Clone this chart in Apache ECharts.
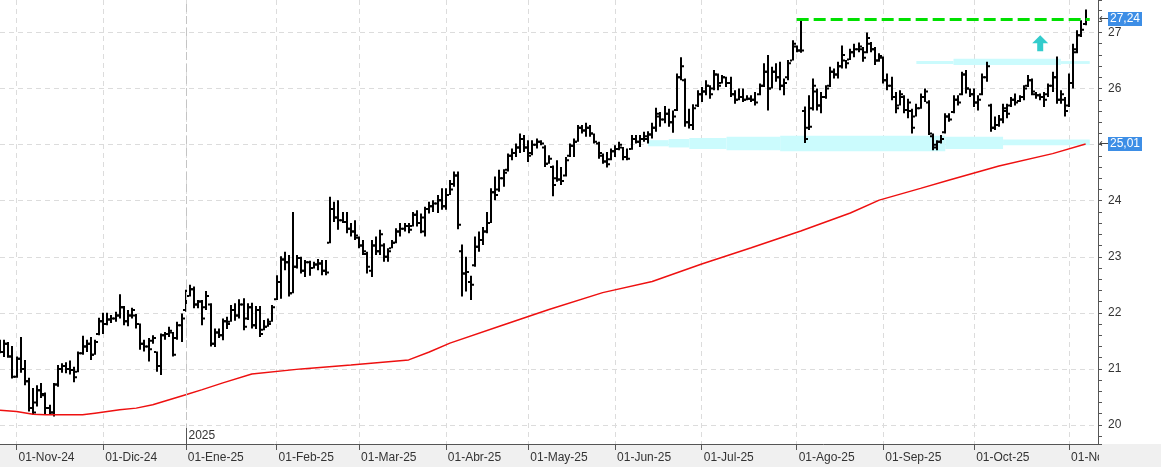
<!DOCTYPE html>
<html>
<head>
<meta charset="utf-8">
<title>Cotización</title>
<script src="https://cdn.jsdelivr.net/npm/echarts@6.0.0/dist/echarts.min.js"></script>
<style>
  html, body { margin: 0; padding: 0; background: #fff; }
  #chart { width: 1161px; height: 467px; }
</style>
</head>
<body>
<div id="chart"></div>
<script>
  // sesiones del 28-oct-24 al 07-nov-25 (mas tres huecos vacios a la derecha)
  const firstDay = '2024-10-28'
  const lastDay = '2025-11-12'
  const holidays = ['2024-12-25', '2024-12-26', '2025-01-01', '2025-04-18', '2025-04-21', '2025-05-01']
  const monthNames = ['Ene', 'Feb', 'Mar', 'Abr', 'May', 'Jun', 'Jul', 'Ago', 'Sep', 'Oct', 'Nov', 'Dic']

  const opens = [
    21.40, 21.30, 21.45, 21.22, 20.86, 21.18, 21.00, 20.78, 20.30, 20.40,
    20.62, 20.53, 20.30, 20.22, 20.72, 21.00, 21.05, 21.00, 20.98, 20.95,
    21.28, 21.40, 21.45, 21.25, 21.62, 21.85, 21.80, 21.88, 21.90, 21.95,
    22.10, 21.85, 21.95, 21.95, 21.80, 21.45, 21.40, 21.50, 21.30, 21.05,
    21.60, 21.62, 21.65, 21.55, 21.78, 22.05, 22.30, 22.42, 22.15, 22.20,
    22.10, 22.15, 21.45, 21.65, 21.60, 21.85, 21.84, 22.05, 21.95, 22.15,
    21.90, 22.10, 21.78, 22.05, 21.70, 21.75, 21.84, 22.24, 22.55, 22.95,
    22.90, 22.35, 22.82, 22.98, 22.75, 22.90, 22.80, 22.86, 22.88, 22.75,
    23.25, 23.85, 23.70, 23.65, 23.62, 23.50, 23.45, 23.34, 23.20, 23.05,
    22.75, 23.20, 23.10, 23.20, 23.00, 23.15, 23.25, 23.45, 23.50, 23.55,
    23.55, 23.75, 23.60, 23.45, 23.85, 23.90, 23.95, 24.01, 23.90, 24.10,
    24.30, 24.45, 23.10, 22.70, 22.55, 22.85, 23.18, 23.30, 23.45, 23.60,
    24.15, 24.20, 24.40, 24.55, 24.80, 24.85, 24.95, 25.10, 24.95, 24.85,
    25.00, 25.05, 24.95, 24.66, 24.60, 24.40, 24.38, 24.45, 24.80, 24.98,
    25.05, 25.30, 25.25, 25.30, 25.20, 25.02, 24.80, 24.70, 24.74, 24.88,
    24.92, 24.95, 24.78, 24.92, 25.10, 25.05, 25.10, 25.10, 25.18, 25.30,
    25.50, 25.45, 25.55, 25.40, 25.62, 26.20, 26.15, 25.40, 25.35, 25.70,
    25.90, 25.95, 26.05, 26.00, 26.25, 26.10, 26.20, 26.10, 25.90, 25.80,
    25.85, 25.80, 25.82, 25.80, 25.90, 26.05, 26.30, 26.00, 26.30, 26.20,
    26.05, 26.20, 26.50, 26.75, 26.68, 25.60, 25.30, 25.65, 25.95, 25.70,
    25.85, 26.05, 26.30, 26.25, 26.40, 26.50, 26.52, 26.65, 26.70, 26.70,
    26.65, 26.80, 26.70, 26.50, 26.55, 26.15, 26.05, 25.85, 25.70, 25.85,
    25.62, 25.60, 25.50, 25.65, 25.85, 25.75, 25.15, 24.95, 25.05, 25.22,
    25.50, 25.58, 25.80, 25.90, 26.25, 26.00, 25.90, 25.75, 25.90, 26.20,
    25.70, 25.30, 25.35, 25.45, 25.60, 25.70, 25.80, 25.78, 25.85, 26.05,
    26.15, 25.90, 25.88, 25.85, 25.90, 26.05, 26.20, 25.80, 25.80, 25.70,
    26.10, 26.70, 26.95, 27.15
  ]
  const highs = [
    21.52, 21.52, 21.48, 21.41, 21.22, 21.57, 21.16, 20.84, 20.66, 20.71,
    20.75, 20.58, 20.36, 20.75, 21.07, 21.10, 21.12, 21.15, 21.04, 21.31,
    21.59, 21.52, 21.57, 21.52, 21.91, 22.00, 22.00, 21.96, 22.02, 22.33,
    22.12, 22.05, 22.09, 21.98, 21.81, 21.52, 21.55, 21.60, 21.31, 21.63,
    21.66, 21.75, 21.66, 21.84, 21.99, 22.41, 22.50, 22.47, 22.23, 22.23,
    22.39, 22.17, 21.72, 21.72, 21.90, 21.93, 22.14, 22.17, 22.24, 22.26,
    22.17, 22.18, 22.12, 22.12, 21.87, 21.90, 22.14, 22.67, 23.01, 23.09,
    23.03, 23.80, 23.03, 23.00, 22.94, 22.93, 22.91, 22.96, 22.94, 22.94,
    24.07, 23.98, 24.01, 23.80, 23.80, 23.60, 23.65, 23.36, 23.30, 23.09,
    23.30, 23.36, 23.48, 23.24, 23.15, 23.30, 23.51, 23.60, 23.60, 23.60,
    23.80, 23.83, 23.77, 23.89, 23.98, 24.01, 24.10, 24.22, 24.22, 24.37,
    24.52, 24.52, 23.22, 23.00, 22.66, 23.36, 23.45, 23.53, 23.80, 24.22,
    24.43, 24.55, 24.56, 24.84, 24.93, 25.02, 25.20, 25.17, 25.08, 25.08,
    25.11, 25.08, 24.99, 24.81, 24.63, 24.72, 24.60, 24.78, 25.02, 25.11,
    25.35, 25.35, 25.39, 25.35, 25.20, 25.05, 24.84, 24.87, 24.93, 24.99,
    25.05, 24.96, 24.93, 25.17, 25.17, 25.17, 25.23, 25.24, 25.39, 25.66,
    25.58, 25.69, 25.64, 25.61, 26.27, 26.56, 26.18, 25.64, 25.72, 25.97,
    26.03, 26.15, 26.06, 26.33, 26.27, 26.24, 26.21, 26.21, 25.97, 26.00,
    26.00, 25.88, 25.88, 25.94, 26.09, 26.45, 26.60, 26.39, 26.45, 26.48,
    26.18, 26.51, 26.86, 26.77, 27.24, 25.68, 25.88, 26.18, 26.00, 25.94,
    26.06, 26.39, 26.36, 26.48, 26.77, 26.51, 26.71, 26.80, 26.82, 26.74,
    27.00, 26.83, 26.74, 26.63, 26.57, 26.27, 26.21, 25.94, 25.97, 25.88,
    25.82, 25.64, 25.73, 25.91, 26.00, 25.79, 25.20, 25.08, 25.17, 25.56,
    25.56, 25.88, 25.88, 26.30, 26.33, 26.00, 26.00, 25.88, 26.27, 26.48,
    25.73, 25.50, 25.53, 25.73, 25.73, 25.85, 25.91, 25.88, 26.06, 26.24,
    26.18, 25.94, 25.91, 25.94, 26.09, 26.30, 26.57, 25.97, 25.85, 26.27,
    26.80, 27.04, 27.22, 27.41
  ]
  const lows = [
    21.28, 21.21, 21.20, 20.83, 20.84, 20.93, 20.71, 20.24, 20.18, 20.33,
    20.48, 20.18, 20.18, 20.15, 20.68, 20.93, 20.92, 20.90, 20.76, 20.94,
    21.25, 21.30, 21.16, 21.25, 21.60, 21.62, 21.78, 21.82, 21.84, 21.90,
    21.78, 21.76, 21.90, 21.72, 21.34, 21.31, 21.13, 21.45, 20.95, 20.89,
    21.52, 21.57, 21.22, 21.52, 21.48, 22.02, 22.29, 22.08, 22.08, 21.78,
    22.05, 21.40, 21.39, 21.55, 21.51, 21.71, 21.84, 21.86, 21.90, 21.69,
    21.87, 21.72, 21.71, 21.57, 21.69, 21.75, 21.84, 22.23, 22.25, 22.76,
    22.29, 22.35, 22.79, 22.70, 22.64, 22.66, 22.79, 22.76, 22.67, 22.67,
    23.24, 23.62, 23.48, 23.60, 23.42, 23.36, 23.30, 23.15, 23.03, 22.70,
    22.64, 23.03, 23.03, 22.91, 22.91, 23.15, 23.24, 23.36, 23.45, 23.42,
    23.54, 23.54, 23.42, 23.36, 23.77, 23.80, 23.78, 23.84, 23.84, 24.10,
    24.25, 23.49, 22.29, 22.38, 22.23, 22.82, 23.09, 23.21, 23.42, 23.60,
    24.01, 24.16, 24.25, 24.52, 24.72, 24.78, 24.85, 24.87, 24.69, 24.81,
    24.93, 24.99, 24.60, 24.66, 24.08, 24.34, 24.28, 24.43, 24.78, 24.78,
    25.05, 25.20, 25.14, 25.14, 25.02, 24.75, 24.66, 24.59, 24.72, 24.78,
    24.90, 24.72, 24.72, 24.91, 25.02, 24.96, 25.05, 25.02, 25.11, 25.23,
    25.32, 25.38, 25.32, 25.21, 25.60, 26.15, 25.32, 25.29, 25.26, 25.67,
    25.76, 25.88, 25.82, 25.97, 25.97, 26.09, 26.03, 25.85, 25.73, 25.79,
    25.76, 25.79, 25.76, 25.70, 25.88, 26.03, 25.61, 26.00, 26.12, 25.97,
    25.88, 26.15, 26.50, 26.65, 26.64, 25.03, 25.26, 25.61, 25.61, 25.56,
    25.82, 26.03, 26.18, 26.18, 26.36, 26.36, 26.51, 26.56, 26.65, 26.48,
    26.63, 26.65, 26.42, 26.48, 26.09, 25.97, 25.79, 25.56, 25.70, 25.56,
    25.47, 25.20, 25.50, 25.64, 25.76, 25.17, 24.90, 24.90, 25.02, 25.20,
    25.41, 25.56, 25.70, 25.88, 25.91, 25.85, 25.67, 25.61, 25.88, 26.12,
    25.23, 25.26, 25.32, 25.38, 25.47, 25.67, 25.70, 25.76, 25.79, 26.03,
    25.88, 25.82, 25.79, 25.67, 25.85, 25.94, 25.73, 25.73, 25.50, 25.67,
    26.00, 26.63, 26.92, 27.13
  ]
  const closes = [
    21.30, 21.45, 21.22, 20.86, 21.18, 21.00, 20.78, 20.30, 20.22, 20.62,
    20.55, 20.30, 20.22, 20.72, 21.00, 21.05, 21.00, 20.98, 20.85, 21.28,
    21.40, 21.45, 21.25, 21.48, 21.85, 21.80, 21.88, 21.90, 21.95, 22.10,
    21.85, 21.95, 22.05, 21.80, 21.45, 21.40, 21.35, 21.55, 21.05, 21.60,
    21.62, 21.68, 21.25, 21.78, 21.90, 22.30, 22.42, 22.15, 22.20, 21.90,
    22.30, 21.45, 21.65, 21.60, 21.85, 21.80, 22.05, 21.95, 22.15, 21.75,
    22.10, 21.78, 22.05, 21.62, 21.75, 21.80, 22.10, 22.55, 22.95, 22.90,
    22.35, 22.82, 22.98, 22.75, 22.90, 22.80, 22.86, 22.88, 22.75, 22.72,
    23.85, 23.70, 23.65, 23.62, 23.50, 23.45, 23.38, 23.20, 23.10, 22.82,
    23.20, 23.10, 23.40, 23.00, 23.10, 23.25, 23.45, 23.50, 23.55, 23.48,
    23.75, 23.60, 23.70, 23.85, 23.90, 23.95, 24.01, 23.90, 24.10, 24.20,
    24.45, 23.57, 22.70, 22.73, 22.50, 23.18, 23.30, 23.45, 23.60, 24.15,
    24.10, 24.40, 24.50, 24.80, 24.85, 24.95, 25.10, 24.95, 24.80, 25.00,
    25.05, 25.02, 24.66, 24.75, 24.28, 24.38, 24.35, 24.72, 24.98, 25.05,
    25.30, 25.25, 25.30, 25.20, 25.05, 24.85, 24.70, 24.65, 24.88, 24.92,
    25.00, 24.78, 24.75, 25.10, 25.05, 25.10, 25.15, 25.18, 25.30, 25.55,
    25.45, 25.55, 25.40, 25.50, 26.20, 26.40, 25.40, 25.35, 25.65, 25.90,
    25.95, 26.05, 25.90, 26.25, 26.05, 26.20, 26.10, 25.90, 25.80, 25.85,
    25.80, 25.82, 25.80, 25.75, 26.05, 26.30, 26.00, 26.30, 26.20, 26.05,
    26.10, 26.45, 26.80, 26.68, 26.68, 25.10, 25.32, 26.05, 25.70, 25.85,
    26.00, 26.30, 26.25, 26.40, 26.60, 26.45, 26.65, 26.70, 26.75, 26.55,
    26.90, 26.70, 26.50, 26.58, 26.15, 26.05, 25.85, 25.65, 25.90, 25.62,
    25.75, 25.30, 25.65, 25.85, 25.95, 25.20, 25.00, 25.05, 25.10, 25.50,
    25.45, 25.80, 25.75, 26.25, 26.00, 25.90, 25.75, 25.80, 26.20, 26.40,
    25.30, 25.35, 25.45, 25.65, 25.55, 25.80, 25.75, 25.85, 26.00, 26.15,
    25.95, 25.88, 25.85, 25.80, 26.05, 26.20, 25.80, 25.90, 25.60, 26.10,
    26.65, 26.95, 27.05, 27.24
  ]

  // media movil (roja), leida sobre algunas sesiones
  const maBar = [0, 4, 8, 11, 16, 20, 23, 26, 29, 33, 37, 41, 45, 49, 54, 61, 73, 85, 99, 104,
    109, 121, 133, 146, 158, 170, 182, 194, 206, 213, 223, 230, 242, 255, 263]
  const maValue = [20.26, 20.24, 20.19, 20.18, 20.18, 20.18, 20.21, 20.24, 20.27, 20.30, 20.36, 20.45,
    20.54, 20.63, 20.75, 20.91, 21.00, 21.07, 21.16, 21.30, 21.46, 21.76, 22.06, 22.36, 22.56, 22.87,
    23.16, 23.46, 23.78, 24.01, 24.22, 24.37, 24.62, 24.84, 25.01]

  // zonas dibujadas a mano (soporte ~25 y resistencia ~26,45)
  const supportFrom = ['2025-06-12', '2025-06-19', '2025-06-26', '2025-07-09', '2025-07-28', '2025-09-22', '2025-10-10']
  const supportTo = ['2025-06-19', '2025-06-26', '2025-07-09', '2025-07-28', '2025-09-22', '2025-10-10', '2025-11-10']
  const supportTop = [25.08, 25.10, 25.12, 25.14, 25.16, 25.14, 25.09]
  const supportBottom = [24.97, 24.95, 24.92, 24.90, 24.88, 24.92, 24.99]
  const resistFrom = ['2025-09-11', '2025-09-24', '2025-10-30']
  const resistTo = ['2025-09-24', '2025-10-30', '2025-11-10']
  const resistTop = [26.49, 26.53, 26.49]
  const resistBottom = [26.44, 26.42, 26.44]

  const maxLevel = 27.24
  const maxFrom = '2025-08-01'
  const maxTo = '2025-11-10'
  const arrowAt = ['2025-10-23', 26.81]
  const yearStart = '2025-01-02'
  const tagValues = [27.24, 25.01]

  const yMin = 19.66
  const yMax = 27.58
  const font = 'Liberation Sans, Arial, sans-serif'

  function tradingDays(from, to) {
    let out = []
    let d = new Date(from + 'T00:00:00Z')
    let end = new Date(to + 'T00:00:00Z')
    while (d <= end) {
      let s = d.toISOString().slice(0, 10)
      let wd = d.getUTCDay()
      if (wd !== 0 && wd !== 6 && holidays.indexOf(s) < 0) out.push(s)
      d.setUTCDate(d.getUTCDate() + 1)
    }
    return out
  }
  const dates = tradingDays(firstDay, lastDay)

  function isMonthStart(i) {
    return i > 0 && dates[i].slice(5, 7) !== dates[i - 1].slice(5, 7)
  }
  function monthLabel(v) {
    return '01-' + monthNames[+v.slice(5, 7) - 1] + '-' + v.slice(2, 4)
  }

  function renderBar(params, api) {
    let i = api.value(0)
    let x = Math.round(api.coord([i, api.value(1)])[0])
    let yo = api.coord([i, api.value(1)])[1]
    let yh = api.coord([i, api.value(2)])[1]
    let yl = api.coord([i, api.value(3)])[1]
    let yc = api.coord([i, api.value(4)])[1]
    let style = { fill: '#000' }
    return {
      type: 'group',
      children: [
        { type: 'rect', shape: { x: x - 1, y: yh, width: 2, height: Math.max(yl - yh, 1) }, style: style },
        { type: 'rect', shape: { x: x - 3, y: yo - 1, width: 2, height: 2 }, style: style },
        { type: 'rect', shape: { x: x + 1, y: yc - 1, width: 2, height: 2 }, style: style }
      ]
    }
  }

  let barData = opens.map((o, i) => [i, o, highs[i], lows[i], closes[i]])
  let maData = maBar.map((b, i) => [b, maValue[i]])

  let areas = []
  supportFrom.forEach((d, i) => {
    areas.push([{ xAxis: d, yAxis: supportTop[i] }, { xAxis: supportTo[i], yAxis: supportBottom[i] }])
  })
  resistFrom.forEach((d, i) => {
    areas.push([{ xAxis: d, yAxis: resistTop[i] }, { xAxis: resistTo[i], yAxis: resistBottom[i] }])
  })

  const chart = echarts.init(document.getElementById('chart'))
  chart.setOption({
    animation: false,
    backgroundColor: '#fff',
    grid: { left: 0, right: 63, top: 0, bottom: 23, outerBoundsMode: 'none' },
    xAxis: {
      type: 'category',
      data: dates,
      boundaryGap: false,
      axisLine: { lineStyle: { color: '#555' } },
      axisTick: { interval: isMonthStart, length: 6, lineStyle: { color: '#555' } },
      axisLabel: {
        interval: isMonthStart,
        formatter: monthLabel,
        align: 'left',
        margin: 8,
        padding: [0, 0, 0, 2],
        color: '#333',
        fontSize: 12,
        fontFamily: font
      },
      splitLine: { show: true, interval: isMonthStart, lineStyle: { color: '#dcdcdc', type: [5, 4] } }
    },
    yAxis: {
      type: 'value',
      position: 'right',
      min: yMin,
      max: yMax,
      splitNumber: 8,
      minInterval: 1,
      maxInterval: 1,
      axisLine: { show: true, lineStyle: { color: '#555' } },
      axisTick: { show: true, length: 4, lineStyle: { color: '#555' } },
      minorTick: { show: true, splitNumber: 5, length: 4, lineStyle: { color: '#555' } },
      axisLabel: { color: '#333', fontSize: 12, fontFamily: font, margin: 10, showMinLabel: false, showMaxLabel: false },
      splitLine: { show: true, showMinLine: false, showMaxLine: false, lineStyle: { color: '#dcdcdc', type: [5, 4] } }
    },
    series: [
      {
        name: 'OHLC',
        type: 'custom',
        renderItem: renderBar,
        data: barData,
        encode: { x: 0, y: [1, 2, 3, 4] },
        clip: true,
        z: 3
      },
      {
        name: 'Media',
        type: 'line',
        data: maData,
        showSymbol: false,
        smooth: false,
        lineStyle: { color: '#ee1010', width: 1.5 },
        z: 4,
        markArea: {
          silent: true,
          itemStyle: { color: '#cbfbfd' },
          data: areas
        },
        markLine: {
          silent: true,
          symbol: 'none',
          label: { show: false },
          data: [
            { xAxis: yearStart, lineStyle: { color: '#c4c4c4', type: [8, 4], width: 1 } },
            [
              { coord: [maxFrom, maxLevel], lineStyle: { color: '#00e000', type: [12, 5], width: 3 } },
              { coord: [maxTo, maxLevel] }
            ]
          ]
        },
        markPoint: {
          silent: true,
          symbol: 'path://M8,0 L16,8 L11,8 L11,16 L5,16 L5,8 L0,8 Z',
          symbolSize: [16, 16],
          itemStyle: { color: '#33cccc' },
          label: { show: false },
          data: [{ coord: arrowAt }]
        }
      }
    ]
  })

  // decoraciones del marco, situadas con las escalas del grafico
  const yPx = v => chart.convertToPixel({ yAxisIndex: 0 }, v)
  const xPx = d => chart.convertToPixel({ xAxisIndex: 0 }, d)
  const bottomY = Math.round(yPx(yMin))
  const rightX = Math.round(xPx(dates[dates.length - 1]))
  const yearX = Math.round(xPx(yearStart)) + 0.5

  let graphics = [
    { type: 'rect', z: -10, silent: true, shape: { x: 0, y: bottomY, width: 1161, height: 467 - bottomY }, style: { fill: '#f0f0f0' } },
    { type: 'rect', z: 50, silent: true, shape: { x: rightX + 1, y: bottomY + 1, width: 1161 - rightX, height: 467 - bottomY }, style: { fill: '#f0f0f0' } },
    { type: 'line', z: 20, silent: true, shape: { x1: yearX, y1: bottomY - 16, x2: yearX, y2: bottomY }, style: { stroke: '#555', lineWidth: 1 } },
    { type: 'text', z: 20, silent: true, x: yearX + 2, y: bottomY - 8, style: { text: '2025', fill: '#333', font: '12px ' + font, verticalAlign: 'middle' } }
  ]
  tagValues.forEach(v => {
    let y = Math.round(yPx(v))
    graphics.push(
      { type: 'text', z: 60, silent: true, x: rightX + 1, y: y, style: { text: '←', fill: '#444', font: '12px DejaVu Sans', verticalAlign: 'middle' } },
      { type: 'rect', z: 60, silent: true, shape: { x: rightX + 10, y: y - 7, width: 34, height: 14 }, style: { fill: '#3d8ee6' } },
      { type: 'text', z: 61, silent: true, x: rightX + 27, y: y, style: { text: v.toFixed(2).replace('.', ','), fill: '#fff', font: '12px ' + font, align: 'center', verticalAlign: 'middle' } }
    )
  })
  chart.setOption({ graphic: graphics })
</script>
</body>
</html>
